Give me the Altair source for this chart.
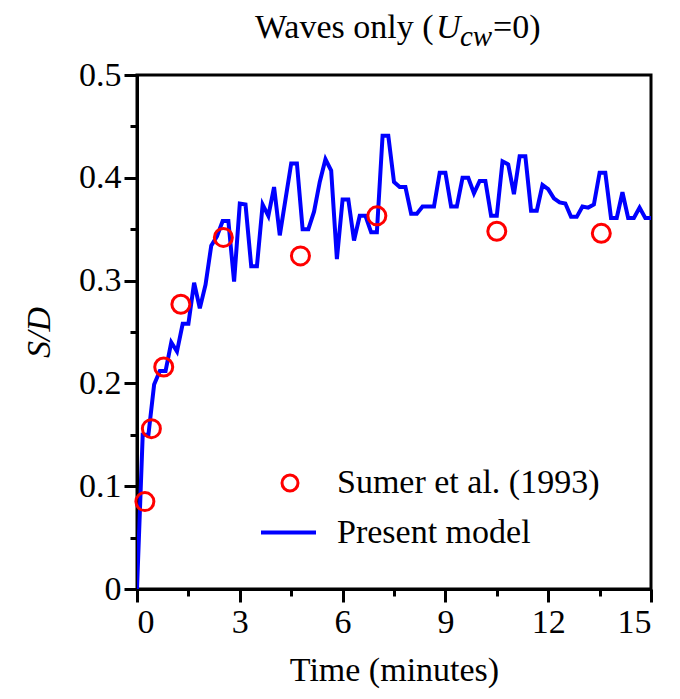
import altair as alt
import pandas as pd

# Present model (10-second steps)
model_t = [i / 6 for i in range(91)]
model_sd = [0.0, 0.15, 0.15, 0.199, 0.212, 0.212, 0.24, 0.231, 0.258, 0.258,
            0.298, 0.273, 0.296, 0.334, 0.343, 0.358, 0.358, 0.299, 0.375, 0.374,
            0.314, 0.314, 0.374, 0.363, 0.391, 0.344, 0.379, 0.414, 0.414, 0.35,
            0.35, 0.367, 0.396, 0.418, 0.407, 0.321, 0.379, 0.379, 0.339, 0.363,
            0.363, 0.347, 0.347, 0.441, 0.441, 0.396, 0.391, 0.391, 0.365, 0.365,
            0.372, 0.372, 0.372, 0.405, 0.405, 0.372, 0.372, 0.40, 0.40, 0.385,
            0.397, 0.397, 0.363, 0.363, 0.416, 0.413, 0.384, 0.421, 0.421, 0.368,
            0.368, 0.393, 0.389, 0.38, 0.376, 0.375, 0.362, 0.362, 0.372, 0.371,
            0.374, 0.405, 0.405, 0.361, 0.361, 0.386, 0.361, 0.361, 0.371, 0.361,
            0.361]

# Sumer et al. (1993) experiment
exp_t = [0.23, 0.42, 0.78, 1.28, 2.52, 4.77, 7.0, 10.5, 13.55]
exp_sd = [0.085, 0.156, 0.216, 0.277, 0.342, 0.324, 0.363, 0.348, 0.346]

x_ticks = [i * 1.5 for i in range(11)]
y_ticks = [0, 0.05, 0.1, 0.15, 0.2, 0.25, 0.3, 0.35, 0.4, 0.45, 0.5]

FONT = "Times New Roman, Liberation Serif, DejaVu Serif, serif"
FS = 34

df_model = pd.DataFrame({"t": model_t, "sd": model_sd, "series": "Present model"})
df_exp = pd.DataFrame({"t": exp_t, "sd": exp_sd, "src": "Sumer et al. (1993)"})

x_enc = alt.X("t:Q", scale=alt.Scale(domain=[0, 15], nice=False, zero=False),
              axis=alt.Axis(values=x_ticks, format="d",
                            labelExpr="round(datum.value*2) % 6 === 0 ? datum.label : ''",
                            tickSize=alt.condition("round(datum.value*2) % 6 === 0", alt.value(13), alt.value(7)),
                            title="Time (minutes)", titlePadding=14, grid=False))
y_enc = alt.Y("sd:Q", scale=alt.Scale(domain=[0, 0.5], nice=False),
              axis=alt.Axis(values=y_ticks, format=".1~f",
                            labelExpr="round(datum.value*20) % 2 === 0 ? datum.label : ''",
                            tickSize=alt.condition("round(datum.value*20) % 2 === 0", alt.value(13), alt.value(7)),
                            title="S/D", titleFontStyle="italic", titlePadding=22, grid=False))

line = alt.Chart(df_model).mark_line(strokeWidth=4, clip=True).encode(
    x=x_enc, y=y_enc,
    color=alt.Color("series:N", scale=alt.Scale(range=["#0000ff"]),
                    legend=alt.Legend(orient="none", legendX=122, legendY=428, title=None,
                                      symbolType="stroke", symbolSize=3025, symbolStrokeWidth=4,
                                      labelFont=FONT, labelFontSize=FS, labelColor="black",
                                      labelOffset=19, labelLimit=0, padding=0)),
)

points = alt.Chart(df_exp).mark_point(shape="circle", filled=False, color="#ff0000",
                                      strokeWidth=3, size=324, opacity=1).encode(
    x="t:Q", y="sd:Q",
    shape=alt.Shape("src:N", scale=alt.Scale(range=["circle"]),
                    legend=alt.Legend(orient="none", legendX=136, legendY=391, title=None,
                                      symbolSize=256, symbolStrokeWidth=3, symbolStrokeColor="#ff0000",
                                      symbolFillColor="transparent",
                                      labelFont=FONT, labelFontSize=FS, labelColor="black",
                                      labelOffset=30, labelLimit=0, padding=0)),
)

blank = alt.Data(values=[{}])
title_parts = [
    ("Waves only (", 118, -37, "normal", FS),
    ("U", 299, -37, "italic", FS),
    ("cw", 323, -29, "italic", 29),
    ("=0)", 356, -37, "normal", FS),
]
title_layers = [
    alt.Chart(blank).mark_text(text=txt, font=FONT, fontSize=fs, fontStyle=st,
                               align="left", baseline="alphabetic", color="black").encode(
        x=alt.value(px), y=alt.value(py))
    for txt, px, py, st, fs in title_parts
]

chart = alt.layer(line, points, *title_layers).resolve_scale(
    color="independent", shape="independent"
).properties(
    width=514, height=514,
    autosize=alt.AutoSizeParams(type="none"),
    padding={"left": 129, "top": 67, "right": 21, "bottom": 102},
).configure_view(
    stroke="black", strokeWidth=3
).configure_axis(
    labelFont=FONT, labelFontSize=FS, labelColor="black",
    titleFont=FONT, titleFontSize=FS, titleFontWeight="normal", titleColor="black",
    domainColor="black", domainWidth=3, tickColor="black", tickWidth=3,
    labelPadding=3,
)

chart.save("out.html", embed_options={"renderer": "svg", "actions": False})
